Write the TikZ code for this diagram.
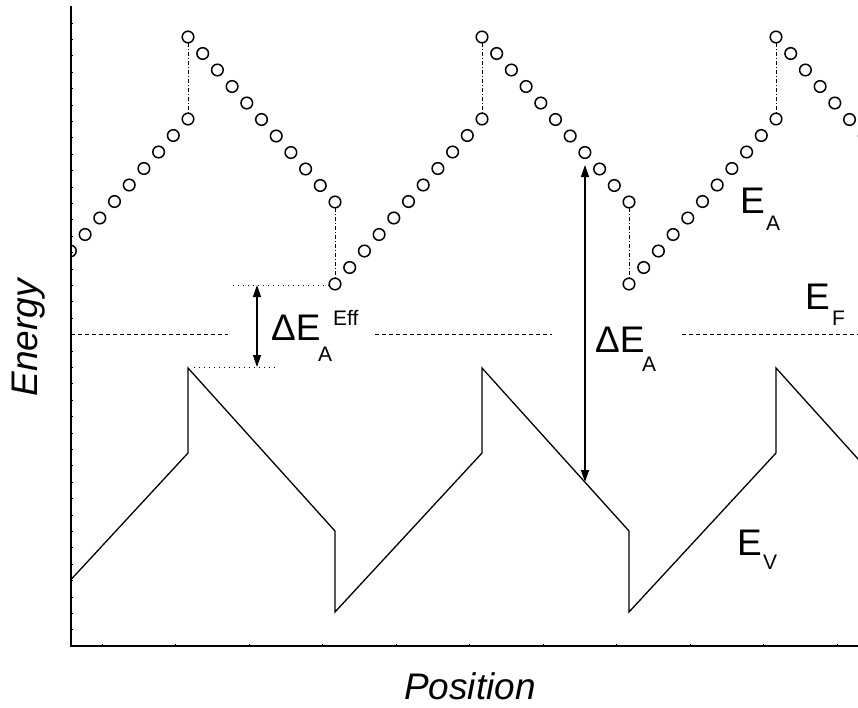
\documentclass[tikz,border=0pt]{standalone}
\usepackage{fontspec}
\setmainfont{Liberation Sans}
\usetikzlibrary{arrows.meta}
\begin{document}
\begin{tikzpicture}[x=1pt,y=-1pt,
  band/.style={line width=1.3pt, line join=miter},
  circ/.style={line width=1.5pt},
  dashdot/.style={line width=1pt, dash pattern=on 4pt off 2pt on 1pt off 2pt},
  fermi/.style={line width=0.9pt, dash pattern=on 4pt off 3pt},
  dotline/.style={line width=1pt, dash pattern=on 1.2pt off 3.8pt},
  axis/.style={line width=2pt},
  tick/.style={line width=0.4pt},
  arr/.style={line width=1.3pt, {Triangle[length=12pt,width=8pt]}-{Triangle[length=12pt,width=8pt]}},
  big/.style={font=\fontsize{37}{37}\selectfont, inner sep=0pt, anchor=base west},
  small/.style={font=\fontsize{21}{21}\selectfont, inner sep=0pt, anchor=base west}]
\useasboundingbox (0,0) rectangle (858,707);
\begin{scope}
  \clip (71,0) rectangle (858,707);
  % conduction band (circles)
  \foreach \k in {-1,0,1,2}{
    \foreach \i in {0,...,10}{
      \draw[circ] ({188+294*\k+14.7*\i},{37+16.5*\i}) circle (5.8pt);
      \draw[circ] ({335+294*\k+14.7*\i},{284-16.5*\i}) circle (5.8pt);
    }
    \draw[dashdot] ({188+294*\k},43) -- ({188+294*\k},113);
    \draw[dashdot] ({335+294*\k},208) -- ({335+294*\k},278);
  }
  % valence band
  \draw[band] (41,612) -- (188,453) -- (188,368) -- (335,531) -- (335,612)
    -- (482,453) -- (482,368) -- (629,531) -- (629,612) -- (776,453)
    -- (776,368) -- (923,531);
\end{scope}
% Fermi level
\draw[fermi] (71,334) -- (228,334);
\draw[fermi] (375,334) -- (552,334);
\draw[fermi] (682,334) -- (858,334);
% effective barrier
\coordinate (efftop) at (257,285);
\coordinate (effbot) at (257,367);
\draw[dotline] (233,285) -- (329,285);
\draw[dotline] (194,367) -- (275,367);
\draw[arr] (efftop) -- (effbot);
\coordinate (atop) at (585,165);
\coordinate (abot) at (585,482);
\draw[arr] (atop) -- (abot);
% axes
\draw[axis] (71,6) -- (71,646) -- (858,646);
\foreach \t in {0,...,10}{\draw[tick] ({101.7+73.5*\t},646) -- ++(0,-2.5);}
\foreach \t in {1,...,38}{\draw[tick] (71,{646-16.4*\t}) -- ++(2,0);}
% labels
\node[big] (dEeff) at (271,340) {ΔE};
\node[small] (dEeffA) at (318,361) {A};
\node[small] (dEeffsup) at (333,325) {Eff};
\node[big] (dEA) at (595,352) {ΔE};
\node[small] (dEAA) at (642,371) {A};
\node[big] (EA) at (740,213) {E};
\node[small] (EAA) at (766,230) {A};
\node[big] (EF) at (805,309) {E};
\node[small] (EFF) at (832,325) {F};
\node[big] (EV) at (737,555) {E};
\node[small] (EVV) at (763,569) {V};
\node[font=\fontsize{37}{37}\selectfont\itshape, inner sep=0pt, anchor=base] (pos) at (470,699) {Position};
\node[font=\fontsize{37}{37}\selectfont\itshape, inner sep=0pt, anchor=base, rotate=90] (en) at (37,338) {Energy};
\end{tikzpicture}
\end{document}
